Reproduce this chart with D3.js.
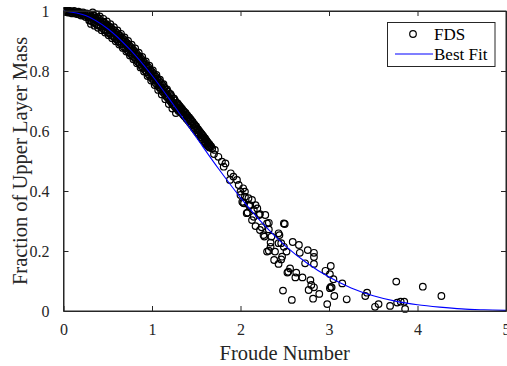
<!DOCTYPE html>
<html>
<head>
<meta charset="utf-8">
<script src="https://cdn.jsdelivr.net/npm/d3@7"></script>
<style>
  body { margin: 0; background: #fff; }
  text { font-family: "Liberation Serif", "Times New Roman", serif; }
</style>
</head>
<body>
<div id="chart"></div>
<script>
// axis ticks
const froudeTicks = [0, 1, 2, 3, 4, 5];
const fractionTicks = [0, 0.2, 0.4, 0.6, 0.8, 1];
const fractionTickLabels = ["0", "0.2", "0.4", "0.6", "0.8", "1"];

// best fit curve
const fitFroude = [0, 0.25, 0.5, 0.75, 1, 1.25, 1.5, 1.75, 2, 2.25, 2.5, 2.75, 3, 3.25, 3.5, 3.75, 4, 4.25, 4.5, 4.75, 5];
const fitFraction = [1, 0.985, 0.941, 0.872, 0.785, 0.684, 0.579, 0.475, 0.378, 0.292, 0.219, 0.16, 0.113, 0.077, 0.051, 0.033, 0.021, 0.013, 0.007, 0.004, 0.002];

// FDS points [froude, fraction]
const fdsTop = [
  [0,1],[0.01,0.998],[0.02,1],[0.03,0.996],[0.04,1],[0.05,0.995],[0.06,1],[0.07,1],[0.08,0.994],[0.09,0.998],
  [0.1,0.992],[0.11,0.997],[0.12,1],[0.13,0.993],[0.14,0.996],[0.15,0.99],[0.16,0.995],[0.17,0.998],[0.18,0.988],
  [0.19,0.993],[0.2,0.985],[0.21,0.992],[0.22,0.995],[0.23,0.985],[0.24,0.99],[0.25,0.98],[0.26,0.992],
  [0.27,0.988],[0.28,0.978],[0.29,0.982],[0.29,0.968]
];
const fdsBand = [
  [0.30,0.988],[0.30,0.970],[0.32,0.982],[0.32,0.966],[0.34,0.985],[0.34,0.962],[0.36,0.978],[0.36,0.960],
  [0.38,0.977],[0.38,0.954],[0.40,0.975],[0.40,0.952],[0.42,0.966],[0.42,0.948],[0.44,0.965],[0.44,0.943],
  [0.46,0.962],[0.46,0.938],[0.48,0.955],[0.48,0.935],[0.50,0.952],[0.50,0.928],[0.52,0.948],[0.52,0.925],
  [0.54,0.944],[0.54,0.920],[0.56,0.938],[0.56,0.916],[0.58,0.934],[0.58,0.910],[0.60,0.928],[0.60,0.905],
  [0.62,0.922],[0.62,0.898],[0.64,0.918],[0.64,0.893],[0.66,0.910],[0.66,0.889],[0.68,0.906],[0.68,0.881],
  [0.70,0.899],[0.70,0.876],[0.72,0.893],[0.72,0.870],[0.74,0.887],[0.74,0.862],[0.76,0.880],[0.76,0.857],
  [0.78,0.874],[0.78,0.850],[0.80,0.867],[0.80,0.845],[0.82,0.861],[0.82,0.837],[0.84,0.853],[0.84,0.831],
  [0.86,0.848],[0.86,0.823],[0.88,0.840],[0.88,0.817],[0.90,0.833],[0.90,0.810],[0.92,0.826],[0.92,0.803],
  [0.94,0.819],[0.94,0.796],[0.96,0.812],[0.96,0.789],[0.98,0.804],[0.98,0.781],[1.00,0.797],[1.00,0.775],
  [1.02,0.790],[1.02,0.768],[1.04,0.782],[1.04,0.760],[1.06,0.775],[1.06,0.753],[1.08,0.768],[1.08,0.746],
  [1.10,0.760],[1.10,0.738],[1.12,0.753],[1.12,0.731],[1.14,0.745],[1.14,0.724],[1.16,0.738],[1.16,0.716],
  [1.18,0.731],[1.18,0.709],[1.20,0.724],[1.20,0.702],[1.22,0.716],[1.22,0.694],[1.24,0.709],[1.24,0.687],
  [1.26,0.702],[1.26,0.680],[1.28,0.694],[1.28,0.674],[1.30,0.687],[1.30,0.667],[1.32,0.680],[1.32,0.664],
  [1.34,0.674],[1.36,0.666],[1.36,0.652],[1.38,0.660],[1.40,0.652],[1.40,0.640],[1.42,0.645],[1.44,0.638],
  [1.44,0.625],[1.46,0.630],[1.48,0.622],[1.48,0.610],[1.50,0.615],[1.52,0.606],[1.52,0.595],[1.54,0.598],
  [1.56,0.590],[1.56,0.578],[1.58,0.583],[1.60,0.575],[1.60,0.562],[1.62,0.566],[1.64,0.558],[1.64,0.548],
  [1.66,0.550]
];
const fdsBandInner = [
  [0.31,0.980],[0.31,0.957],[0.33,0.977],[0.33,0.995],[0.35,0.974],[0.35,0.951],[0.37,0.970],[0.37,0.989],
  [0.39,0.967],[0.39,0.944],[0.41,0.963],[0.41,0.982],[0.43,0.959],[0.43,0.936],[0.45,0.955],[0.45,0.974],
  [0.47,0.951],[0.47,0.928],[0.49,0.946],[0.49,0.965],[0.51,0.942],[0.51,0.919],[0.53,0.937],[0.53,0.956],
  [0.55,0.932],[0.55,0.909],[0.57,0.927],[0.57,0.946],[0.59,0.922],[0.59,0.899],[0.61,0.917],[0.61,0.935],
  [0.63,0.911],[0.63,0.888],[0.65,0.906],[0.65,0.924],[0.67,0.900],[0.67,0.877],[0.69,0.894],[0.69,0.912],
  [0.71,0.888],[0.71,0.865],[0.73,0.882],[0.73,0.900],[0.75,0.876],[0.75,0.852],[0.77,0.869],[0.77,0.888],
  [0.79,0.863],[0.79,0.839],[0.81,0.856],[0.81,0.875],[0.83,0.849],[0.83,0.826],[0.85,0.842],[0.85,0.861],
  [0.87,0.835],[0.87,0.812],[0.89,0.828],[0.89,0.847],[0.91,0.821],[0.91,0.798],[0.93,0.814],[0.93,0.832],
  [0.95,0.807],[0.95,0.783],[0.97,0.799],[0.97,0.818],[0.99,0.791],[0.99,0.768],[1.01,0.784],[1.01,0.802],
  [1.03,0.776],[1.03,0.753],[1.05,0.768],[1.05,0.787],[1.07,0.761],[1.07,0.737],[1.09,0.753],[1.09,0.771],
  [1.11,0.745],[1.11,0.722],[1.13,0.737],[1.13,0.756],[1.15,0.729],[1.15,0.706],[1.17,0.721],[1.17,0.739],
  [1.19,0.713],[1.19,0.690],[1.21,0.705],[1.21,0.723],[1.23,0.697],[1.23,0.675],[1.25,0.690],[1.25,0.708],
  [1.27,0.682],[1.27,0.660],[1.29,0.674],[1.29,0.692],
  [1.31,0.684],[1.31,0.672],[1.33,0.676],[1.33,0.661],[1.35,0.668],[1.35,0.655],[1.37,0.661],[1.37,0.648],
  [1.39,0.654],[1.39,0.641],[1.41,0.646],[1.41,0.634],[1.43,0.640],[1.43,0.627],[1.45,0.631],[1.45,0.619],
  [1.47,0.624],[1.47,0.611],[1.49,0.617],[1.49,0.603],[1.51,0.608],[1.51,0.596],[1.53,0.601],[1.53,0.588],
  [1.55,0.594],[1.55,0.580],[1.57,0.586],[1.57,0.572],[1.59,0.578],[1.59,0.566],[1.61,0.570],[1.61,0.557],
  [1.63,0.562],[1.63,0.551],[1.65,0.555],[1.65,0.545],[1.67,0.548]
];
const fdsMid = [
  [1.68,0.542],[1.71,0.537],[1.70,0.523],[1.75,0.514],[1.79,0.498],[1.83,0.492],[1.81,0.481],[1.89,0.459],
  [1.92,0.448],[1.88,0.437],[1.96,0.437],[1.98,0.420],[2.03,0.409],[2.05,0.398],[2.00,0.387],[2.09,0.376],
  [2.13,0.370],[2.03,0.361],[2.17,0.353],[2.11,0.353],[2.00,0.398],[2.05,0.381],[2.02,0.364],[2.19,0.342],
  [2.08,0.328],[2.15,0.314],[2.22,0.323],[2.28,0.320],[2.30,0.292],[2.24,0.279],[2.32,0.272],[2.49,0.292],
  [2.26,0.253],[2.35,0.248],[2.43,0.259],[2.43,0.226],[2.34,0.214],[2.30,0.198],[2.39,0.198],[2.49,0.214],
  [2.38,0.170],[2.47,0.181],[2.52,0.198],[2.04,0.359],[2.10,0.350],[2.15,0.337],[2.07,0.326],[2.21,0.320],
  [2.32,0.294],[2.17,0.283],[2.22,0.270],[2.27,0.248],[2.44,0.253],[2.34,0.228],[2.32,0.201],[2.46,0.172],
  [2.43,0.157],[2.46,0.226],[2.13,0.303]
];
const fdsTail = [
  [2.50,0.290],[2.48,0.068],[2.58,0.037],[2.59,0.230],[2.66,0.220],[2.67,0.194],[2.76,0.203],[2.83,0.194],
  [2.83,0.180],[2.73,0.159],[2.83,0.157],[2.56,0.142],[2.53,0.128],[2.63,0.128],[2.62,0.112],[2.70,0.112],
  [2.79,0.103],[2.80,0.087],[2.83,0.079],[2.77,0.070],[2.82,0.041],[2.89,0.057],[2.96,0.134],[3.02,0.150],
  [3.01,0.123],[3.05,0.106],[3.15,0.092],[3.01,0.076],[3.03,0.079],[3.06,0.050],[2.98,0.023],[3.20,0.039],
  [3.43,0.061],[3.41,0.050],[3.52,0.014],[3.56,0.023],[3.76,0.098],[4.06,0.081],[4.27,0.050],[3.69,0.017],
  [3.77,0.028],[3.81,0.031],[3.85,0.031],[3.86,0.007],[3.02,0.080],[2.54,0.131]
];

const fdsPoints = fdsTop.concat(fdsBand, fdsBandInner, fdsMid, fdsTail);

const W = 507, H = 366;
const plot = { left: 63.5, right: 506, top: 11, bottom: 311 };
const axisColor = "#262626";

const svg = d3.select("#chart")
  .append("svg")
  .attr("width", W)
  .attr("height", H);

const x = d3.scaleLinear().domain([0, 5]).range([plot.left, plot.right]);
const y = d3.scaleLinear().domain([0, 1]).range([plot.bottom, plot.top]);

// data layers, clipped to the axes box
svg.append("clipPath").attr("id", "clip")
  .append("rect")
  .attr("x", plot.left).attr("y", plot.top - 4)
  .attr("width", plot.right - plot.left + 4).attr("height", plot.bottom - plot.top + 8);

const dataG = svg.append("g").attr("clip-path", "url(#clip)");

dataG.selectAll("circle")
  .data(fdsPoints)
  .enter()
  .append("circle")
  .attr("cx", d => x(d[0]))
  .attr("cy", d => y(d[1]))
  .attr("r", 3.3)
  .attr("fill", "none")
  .attr("stroke", "#000")
  .attr("stroke-width", 1.2);

const fitData = fitFroude.map((f, i) => [f, fitFraction[i]]);
const line = d3.line()
  .x(d => x(d[0]))
  .y(d => y(d[1]))
  .curve(d3.curveCatmullRom);

dataG.append("path")
  .datum(fitData)
  .attr("d", line)
  .attr("fill", "none")
  .attr("stroke", "#0000ff")
  .attr("stroke-width", 1.1);

// axes box
svg.append("rect")
  .attr("x", plot.left).attr("y", plot.top)
  .attr("width", plot.right - plot.left).attr("height", plot.bottom - plot.top)
  .attr("fill", "none")
  .attr("stroke", axisColor)
  .attr("stroke-width", 1);

const tickLen = 5;

const xAxis = svg.append("g")
  .attr("transform", `translate(0,${plot.bottom})`)
  .call(d3.axisBottom(x).tickValues(froudeTicks).tickFormat(d3.format("d"))
    .tickSizeInner(-tickLen).tickSizeOuter(0).tickPadding(13));
const xAxisTop = svg.append("g")
  .attr("transform", `translate(0,${plot.top})`)
  .call(d3.axisTop(x).tickValues(froudeTicks).tickFormat("")
    .tickSizeInner(-tickLen).tickSizeOuter(0));
const yAxis = svg.append("g")
  .attr("transform", `translate(${plot.left},0)`)
  .call(d3.axisLeft(y).tickValues(fractionTicks).tickFormat((d, i) => fractionTickLabels[i])
    .tickSizeInner(-tickLen).tickSizeOuter(0).tickPadding(14));
const yAxisRight = svg.append("g")
  .attr("transform", `translate(${plot.right},0)`)
  .call(d3.axisRight(y).tickValues(fractionTicks).tickFormat("")
    .tickSizeInner(-tickLen).tickSizeOuter(0));

[xAxis, xAxisTop, yAxis, yAxisRight].forEach(g => {
  g.select(".domain").attr("stroke", axisColor);
  g.selectAll(".tick line").attr("stroke", axisColor);
  g.selectAll(".tick text")
    .attr("fill", axisColor)
    .style("font-family", "'Liberation Serif', serif")
    .style("font-size", "16px");
});

// axis labels
svg.append("text")
  .attr("x", (plot.left + plot.right) / 2)
  .attr("y", 360)
  .attr("text-anchor", "middle")
  .attr("fill", axisColor)
  .style("font-size", "20.5px")
  .text("Froude Number");

svg.append("text")
  .attr("transform", "rotate(-90)")
  .attr("x", -(plot.top + plot.bottom) / 2)
  .attr("y", 27)
  .attr("text-anchor", "middle")
  .attr("fill", axisColor)
  .style("font-size", "20.5px")
  .text("Fraction of Upper Layer Mass");

// legend
const legend = svg.append("g");
legend.append("rect")
  .attr("x", 387.5).attr("y", 22.5)
  .attr("width", 107.5).attr("height", 44)
  .attr("fill", "#fff")
  .attr("stroke", axisColor)
  .attr("stroke-width", 1);
legend.append("circle")
  .attr("cx", 413).attr("cy", 34)
  .attr("r", 3.3)
  .attr("fill", "none")
  .attr("stroke", "#000")
  .attr("stroke-width", 1.2);
legend.append("text")
  .attr("x", 434).attr("y", 40)
  .attr("fill", "#000")
  .style("font-size", "17px")
  .text("FDS");
legend.append("line")
  .attr("x1", 395).attr("x2", 433)
  .attr("y1", 54).attr("y2", 54)
  .attr("stroke", "#0000ff")
  .attr("stroke-width", 1.1);
legend.append("text")
  .attr("x", 434).attr("y", 60)
  .attr("fill", "#000")
  .style("font-size", "17px")
  .text("Best Fit");
</script>
</body>
</html>
